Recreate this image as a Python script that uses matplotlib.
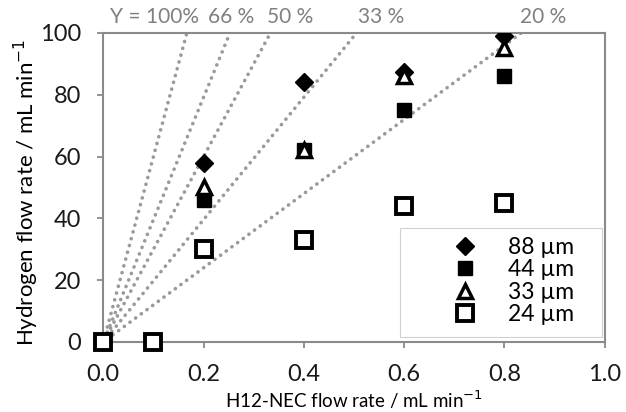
import numpy as np
import matplotlib
matplotlib.use("Agg")
import matplotlib.pyplot as plt
from matplotlib.patches import Rectangle, Shadow

plt.rcParams['font.family'] = ['Lato', 'DejaVu Sans']

# 数据
x88 = [0.0, 0.2, 0.4, 0.6, 0.8]
y88 = [0, 58, 84, 87.5, 99]
x44 = [0.0, 0.2, 0.4, 0.6, 0.8]
y44 = [0, 46, 62, 75, 86]
x33 = [0.0, 0.2, 0.4, 0.6, 0.8]
y33 = [0, 50, 62, 86, 95]
x24 = [0.0, 0.1, 0.2, 0.4, 0.6, 0.8]
y24 = [0, 0, 30, 33, 44, 45]

# 理论产率线: H2 = Y * K * x
K = 600
yields = [1.0, 0.66, 0.5, 0.33, 0.2]
yield_labels = ["Y = 100%", "66 %", "50 %", "33 %", "20 %"]
label_x = [0.014, 0.209, 0.327, 0.508, 0.831]

fig = plt.figure(figsize=(6.26, 4.12), dpi=100)
ax = fig.add_axes([0.165, 0.17, 0.801, 0.75])

grey = "#9a9a9a"
for Y in yields:
    xs = np.array([0.008, 100 / (Y * K)])
    ax.plot(xs, Y * K * xs, color=grey, lw=2.6, linestyle=(0, (0.05, 1.9)),
            dash_capstyle="round", zorder=1)
for lab, lx in zip(yield_labels, label_x):
    ax.text(lx, 105.3, lab, color="#808080", fontsize=15, ha="left", va="center")

ax.plot(x88, y88, "D", ms=9.5, color="black", ls="none", label="88 µm", zorder=3)
ax.plot(x44, y44, "s", ms=10.5, color="black", ls="none", label="44 µm", zorder=3)
ax.plot(x33, y33, "^", ms=10.5, mfc="white", mec="black", mew=2.5, ls="none", label="33 µm", zorder=4)
ax.plot(x24, y24, "s", ms=11, mfc="white", mec="black", mew=2.8, ls="none", label="24 µm", zorder=4,
        clip_on=False)

ax.set_xlim(0, 1.0)
ax.set_ylim(0, 100)
ax.set_xticks(np.arange(0, 1.01, 0.2))
ax.set_yticks(np.arange(0, 101, 20))
ax.set_xticklabels([f"{v:.1f}" for v in np.arange(0, 1.01, 0.2)])
for s in ax.spines.values():
    s.set_color("#8a8a8a")
    s.set_linewidth(1.5)
ax.tick_params(axis="both", colors="#8a8a8a", labelcolor="#1a1a1a", labelsize=17,
               length=4, width=1.3, direction="out")
ax.tick_params(axis="x", pad=12)
ax.tick_params(axis="y", pad=12)
ax.set_xlabel("H12-NEC flow rate / mL min$^{-1}$", fontsize=13.5, va="top")
ax.set_ylabel("Hydrogen flow rate / mL min$^{-1}$", fontsize=16)
ax.xaxis.set_label_coords(0.5, -0.152)
ax.yaxis.set_label_coords(-0.125, 0.485)

# 图例背景框 + 阴影
box = Rectangle((0.639, 0.182), 0.323, 0.265, transform=fig.transFigure,
                facecolor="white", edgecolor="#d0d0d0", lw=0.8, zorder=4.6)
shadow = Shadow(box, 3, -3, facecolor="#9a9a9a", alpha=0.6, zorder=4.5)
ax.add_artist(shadow)
ax.add_artist(box)
for a in (box, shadow):
    a.set_clip_on(False)

leg = ax.legend(loc="center left", bbox_to_anchor=(0.703, 0.318),
                bbox_transform=fig.transFigure, fontsize=16.5, frameon=False,
                borderpad=0, borderaxespad=0, handlelength=2.17,
                handletextpad=0.78, labelspacing=0.05)
leg.set_zorder(5)

fig.savefig("out.png", dpi=100)
